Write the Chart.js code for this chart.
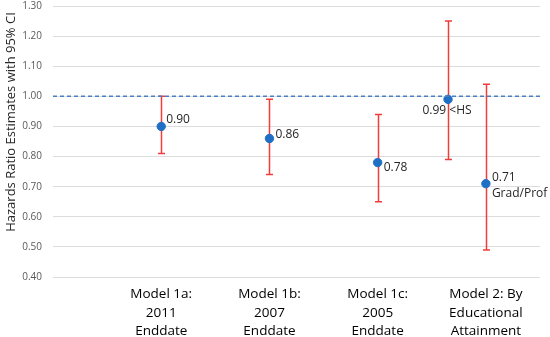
<!DOCTYPE html>
<html>
<head>
<meta charset="utf-8">
<script src="https://cdn.jsdelivr.net/npm/chart.js@4.4.0/dist/chart.umd.min.js"></script>
<style>
    html, body { margin: 0; padding: 0; background: #fff; }
    #wrap { width: 550px; height: 337px; }
</style>
</head>
<body>
<div id="wrap"><canvas id="hrChart" width="550" height="337"></canvas></div>
<script>
// Chart data
const categories = [
    ['Model 1a:', '2011', 'Enddate'],
    ['Model 1b:', '2007', 'Enddate'],
    ['Model 1c:', '2005', 'Enddate'],
    ['Model 2: By', 'Educational', 'Attainment']
];
const categoryPos = [1, 2, 3, 4];
const pointPos = [1, 2, 3, 3.65, 4];
const hazardRatio = [0.90, 0.86, 0.78, 0.99, 0.71];
const ciLow = [0.81, 0.74, 0.65, 0.79, 0.49];
const ciHigh = [1.00, 0.99, 0.94, 1.25, 1.04];
const pointLabels = [['0.90'], ['0.86'], ['0.78'], ['0.99 <HS'], ['0.71', 'Grad/Prof']];
const referenceValue = 1.00;
const yMin = 0.40, yMax = 1.30, yStep = 0.10;
const yTitle = 'Hazards Ratio Estimates with 95% CI';

// Where each value label sits relative to its point (style only)
const labelPlacement = [
    { dx: 5, dy: -7, align: 'left' },
    { dx: 6, dy: -4, align: 'left' },
    { dx: 6, dy: 5, align: 'left' },
    { dx: -1, dy: 11, align: 'center' },
    { dx: 6, dy: -6, align: 'left' }
];

const fontFamily = '"Open Sans", "Noto Sans", sans-serif';

// Plugin to draw the 95% CI whiskers, the value labels and the y title
const errorBarPlugin = {
    id: 'errorBars',
    beforeDatasetsDraw(chart) {
        const ctx = chart.ctx;
        const xs = chart.scales.x, ys = chart.scales.y;
        ctx.save();
        ctx.strokeStyle = '#f23c3c';
        ctx.lineWidth = 1.5;
        pointPos.forEach((p, i) => {
            const x = Math.round(xs.getPixelForValue(p)) + 0.5;
            const yLo = ys.getPixelForValue(ciLow[i]);
            const yHi = ys.getPixelForValue(ciHigh[i]);
            ctx.beginPath();
            ctx.moveTo(x, yLo); ctx.lineTo(x, yHi);
            ctx.moveTo(x - 3.5, yLo); ctx.lineTo(x + 3.5, yLo);
            ctx.moveTo(x - 3.5, yHi); ctx.lineTo(x + 3.5, yHi);
            ctx.stroke();
        });
        ctx.restore();
    },
    afterDatasetsDraw(chart) {
        const ctx = chart.ctx;
        const xs = chart.scales.x, ys = chart.scales.y;
        ctx.save();
        ctx.font = '12px ' + fontFamily;
        ctx.fillStyle = '#262626';
        ctx.textBaseline = 'middle';
        pointPos.forEach((p, i) => {
            const pl = labelPlacement[i];
            const x = xs.getPixelForValue(p) + pl.dx;
            const y = ys.getPixelForValue(hazardRatio[i]) + pl.dy;
            ctx.textAlign = pl.align;
            pointLabels[i].forEach((line, j) => {
                ctx.fillText(line, x, y + j * 16);
            });
        });
        // rotated axis title
        ctx.translate(11, 122);
        ctx.rotate(-Math.PI / 2);
        ctx.font = '13px ' + fontFamily;
        ctx.textAlign = 'center';
        ctx.fillText(yTitle, 0, 0);
        ctx.restore();
    }
};

const ctx = document.getElementById('hrChart').getContext('2d');
window.hrChartInstance = new Chart(ctx, {
    type: 'scatter',
    data: {
        datasets: [
            {
                label: 'Reference',
                type: 'line',
                data: [{ x: 0, y: referenceValue }, { x: 4.5, y: referenceValue }],
                borderColor: '#4a7ec2',
                borderWidth: 1.5,
                borderDash: [4, 3],
                pointRadius: 0,
                fill: false
            },
            {
                label: 'Hazards Ratio',
                data: pointPos.map((p, i) => ({ x: p, y: hazardRatio[i] })),
                backgroundColor: '#1f6fc5',
                borderColor: '#1f6fc5',
                pointRadius: 4.2,
                pointHoverRadius: 4.2
            }
        ]
    },
    options: {
        responsive: false,
        animation: false,
        layout: { padding: { top: 0, right: 10, left: 0, bottom: 0 } },
        scales: {
            x: {
                type: 'linear',
                min: 0,
                max: 4.5,
                grid: { display: false },
                border: { display: false },
                afterBuildTicks(scale) {
                    scale.ticks = categoryPos.map(v => ({ value: v }));
                },
                afterFit(scale) { scale.height = 60; },
                ticks: {
                    autoSkip: false,
                    maxRotation: 0,
                    padding: 0,
                    color: '#000000',
                    font: { family: fontFamily, size: 13.5, lineHeight: 1.38 },
                    callback: (v) => {
                        const i = categoryPos.indexOf(v);
                        return i >= 0 ? categories[i] : '';
                    }
                }
            },
            y: {
                min: yMin,
                max: yMax,
                afterFit(scale) { scale.width = 53; },
                grid: {
                    color: '#dcdcdc',
                    drawTicks: true,
                    tickLength: 11,
                    tickColor: 'rgba(0,0,0,0)'
                },
                border: { display: false },
                ticks: {
                    stepSize: yStep,
                    padding: 0,
                    color: '#595959',
                    font: { family: fontFamily, size: 10 },
                    callback: (v) => Number(v).toFixed(2)
                }
            }
        },
        plugins: {
            legend: { display: false },
            tooltip: { enabled: false },
            title: { display: false }
        }
    },
    plugins: [errorBarPlugin]
});
</script>
</body>
</html>
